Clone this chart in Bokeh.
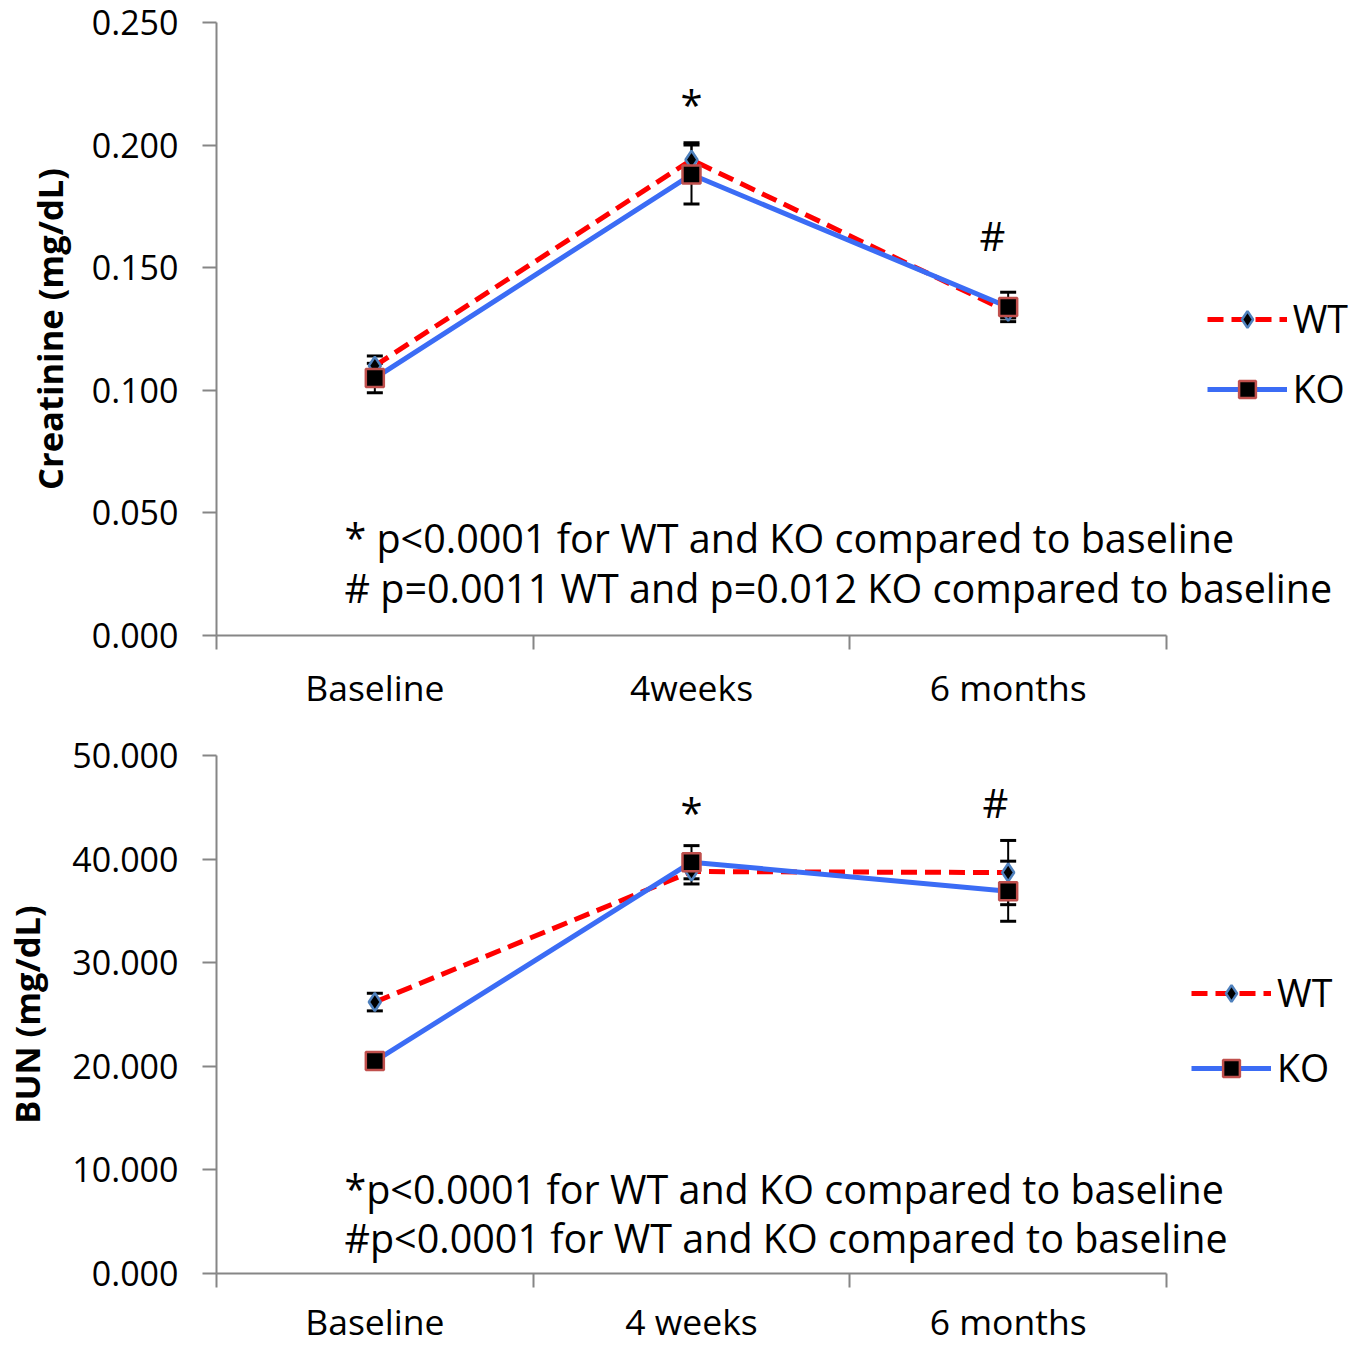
from bokeh.plotting import figure
from bokeh.models import (ColumnDataSource, Whisker, TeeHead, FixedTicker, Legend,
                          LegendItem, Range1d, Label, NumeralTickFormatter)
from bokeh.layouts import column
from bokeh.embed import file_html
from bokeh.resources import INLINE

# ---------------- data ----------------
x_pos = [0.5, 1.5, 2.5]
categories_creat = ["Baseline", "4weeks", "6 months"]
categories_bun = ["Baseline", "4 weeks", "6 months"]

creat_wt = [0.110, 0.194, 0.132]
creat_wt_err = [0.004, 0.007, 0.0025]
creat_ko = [0.105, 0.188, 0.134]
creat_ko_err = [0.006, 0.012, 0.006]

bun_wt = [26.2, 38.8, 38.7]
bun_wt_err = [0.85, 1.2, 3.1]
bun_ko = [20.5, 39.7, 36.9]
bun_ko_err = [0.3, 1.6, 2.9]

creat_ticks = [0.0, 0.05, 0.10, 0.15, 0.20, 0.25]
bun_ticks = [0, 10, 20, 30, 40, 50]

creat_notes = ["* p<0.0001 for WT and KO compared to baseline",
               "# p=0.0011 WT and p=0.012 KO compared to baseline"]
bun_notes = ["*p<0.0001 for WT and KO compared to baseline",
             "#p<0.0001 for WT and KO compared to baseline"]

FONT = "Open Sans"
RED = "#FF0000"
BLUE = "#3B6CF5"
AXIS_GRAY = "#868686"


def make_panel(wt, wt_err, ko, ko_err, cats, yticks, ymax, ylabel,
               star_y, hash_xy, note_ys, notes, legend_xy, legend_spacing,
               height, top, bottom, xlabel_standoff, title_standoff):
    p = figure(output_backend="svg", toolbar_location=None,
               frame_width=1150, frame_height=(height - top - bottom),
               min_border_left=214, min_border_right=0,
               min_border_top=top, min_border_bottom=bottom,
               x_range=Range1d(0, 1150 / (950 / 3)), y_range=Range1d(0, ymax))
    p.outline_line_color = None
    p.xgrid.visible = False
    p.ygrid.visible = False
    p.background_fill_color = "white"
    p.border_fill_color = "white"

    # axes
    for ax in (p.xaxis[0], p.yaxis[0]):
        ax.axis_line_color = AXIS_GRAY
        ax.axis_line_width = 2
        ax.major_tick_line_color = AXIS_GRAY
        ax.major_tick_line_width = 2
        ax.minor_tick_line_color = AXIS_GRAY
        ax.minor_tick_line_width = 2
        ax.major_label_text_font = FONT
        ax.major_label_text_color = "black"
    xa = p.xaxis[0]
    xa.bounds = (0, 3)
    xa.ticker = FixedTicker(ticks=x_pos, minor_ticks=[0, 1, 2, 3])
    xa.major_label_overrides = {x: c for x, c in zip(x_pos, cats)}
    xa.major_label_text_font_size = "35.5px"
    xa.major_tick_out = 0
    xa.major_tick_in = 0
    xa.minor_tick_out = 14
    xa.minor_tick_in = 0
    xa.major_label_standoff = xlabel_standoff

    ya = p.yaxis[0]
    ya.ticker = FixedTicker(ticks=yticks)
    ya.formatter = NumeralTickFormatter(format="0.000")
    ya.major_label_text_font_size = "34px"
    ya.major_tick_out = 14
    ya.major_tick_in = 0
    ya.minor_tick_out = 0
    ya.minor_tick_in = 0
    ya.major_label_standoff = 24
    ya.axis_label = ylabel
    ya.axis_label_text_font = FONT
    ya.axis_label_text_font_style = "bold"
    ya.axis_label_text_font_size = "34.5px"
    ya.axis_label_text_color = "black"
    ya.axis_label_standoff = title_standoff

    wt_src = ColumnDataSource(dict(x=x_pos, y=wt,
                                   lo=[v - e for v, e in zip(wt, wt_err)],
                                   hi=[v + e for v, e in zip(wt, wt_err)]))
    ko_src = ColumnDataSource(dict(x=x_pos, y=ko,
                                   lo=[v - e for v, e in zip(ko, ko_err)],
                                   hi=[v + e for v, e in zip(ko, ko_err)]))

    wt_line = p.line("x", "y", source=wt_src, line_color=RED, line_width=5,
                     line_dash="16 8")
    ko_line = p.line("x", "y", source=ko_src, line_color=BLUE, line_width=5)

    for src in (wt_src, ko_src):
        w = Whisker(source=src, base="x", upper="hi", lower="lo",
                    line_color="black", line_width=2,
                    upper_head=TeeHead(size=16, line_color="black", line_width=3),
                    lower_head=TeeHead(size=16, line_color="black", line_width=3))
        p.add_layout(w)

    wt_pts = p.scatter("x", "y", source=wt_src, marker="diamond", size=18,
                       fill_color="black", line_color="#4F81BD", line_width=2.5)
    ko_pts = p.scatter("x", "y", source=ko_src, marker="square", size=18,
                       fill_color="black", line_color="#C0504D", line_width=2.5)

    # significance markers
    p.add_layout(Label(x=x_pos[1], y=star_y, text="*", text_font=FONT,
                       text_font_size="40px", text_align="center",
                       text_baseline="middle", text_color="black"))
    p.add_layout(Label(x=hash_xy[0], y=hash_xy[1], text="#", text_font=FONT,
                       text_font_size="40px", text_align="center",
                       text_baseline="middle", text_color="black"))
    for ny, nt in zip(note_ys, notes):
        p.add_layout(Label(x=0.404, y=ny, text=nt, text_font=FONT,
                           text_font_size="39.5px", text_align="left",
                           text_baseline="middle", text_color="black"))

    legend = Legend(items=[LegendItem(label="WT", renderers=[wt_line, wt_pts]),
                           LegendItem(label="KO", renderers=[ko_line, ko_pts])],
                    location=legend_xy, orientation="vertical",
                    glyph_width=80, glyph_height=42, label_height=42,
                    spacing=legend_spacing, padding=0, margin=0,
                    border_line_color=None, background_fill_alpha=0,
                    label_text_font=FONT, label_text_font_size="37.5px",
                    label_text_color="black", label_standoff=6)
    p.add_layout(legend)
    return p


p1 = make_panel(creat_wt, creat_wt_err, creat_ko, creat_ko_err, categories_creat,
                creat_ticks, 0.25, "Creatinine (mg/dL)",
                star_y=0.2165, hash_xy=(2.45, 0.163), note_ys=[0.0396, 0.0192],
                notes=creat_notes, legend_xy=(1006, 221), legend_spacing=19,
                height=715, top=22, bottom=80, xlabel_standoff=13,
                title_standoff=16)
p2 = make_panel(bun_wt, bun_wt_err, bun_ko, bun_ko_err, categories_bun,
                bun_ticks, 50, "BUN (mg/dL)",
                star_y=44.5, hash_xy=(2.46, 45.5), note_ys=[8.2, 3.38],
                notes=bun_notes, legend_xy=(975, 180), legend_spacing=24,
                height=632, top=40, bottom=74, xlabel_standoff=9,
                title_standoff=19)

layout = column(p1, p2, spacing=0)
open("out.html", "w").write(file_html(layout, INLINE))
